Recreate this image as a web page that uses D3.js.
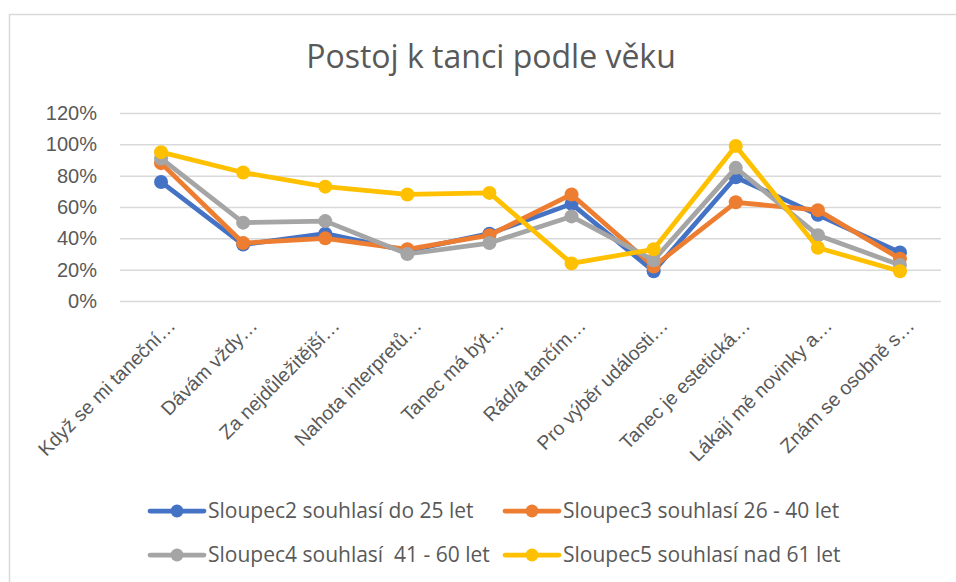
<!DOCTYPE html>
<html lang="cs">
<head>
    <meta charset="UTF-8">
    <title>Postoj k tanci podle věku</title>
    <style>
        body {
            margin: 0;
            background-color: #ffffff;
        }
        svg {
            display: block;
            font-family: "Open Sans", Lato, sans-serif;
        }
        .tick text {
            fill: #595959;
        }
        .legend text {
            white-space: pre;
        }
    </style>
</head>
<body>
    <script src="https://d3js.org/d3.v7.min.js"></script>
    <script>
        const width = 956;
        const height = 582;

        const categories = [
            "Když se mi taneční…",
            "Dávám vždy…",
            "Za nejdůležitější…",
            "Nahota interpretů…",
            "Tanec má být…",
            "Rád/a tančím…",
            "Pro výběr události…",
            "Tanec je estetická…",
            "Lákají mě novinky a…",
            "Znám se osobně s…"
        ];

        const seriesNames = [
            "Sloupec2 souhlasí do 25 let",
            "Sloupec3 souhlasí 26 - 40 let",
            "Sloupec4 souhlasí  41 - 60 let",
            "Sloupec5 souhlasí nad 61 let"
        ];

        const do25 = [0.76, 0.36, 0.43, 0.32, 0.43, 0.62, 0.19, 0.79, 0.55, 0.31];
        const od26do40 = [0.88, 0.37, 0.40, 0.33, 0.42, 0.68, 0.22, 0.63, 0.58, 0.27];
        const od41do60 = [0.91, 0.50, 0.51, 0.30, 0.37, 0.54, 0.26, 0.85, 0.42, 0.23];
        const nad61 = [0.95, 0.82, 0.73, 0.68, 0.69, 0.24, 0.33, 0.99, 0.34, 0.19];

        const yTicks = [0, 0.2, 0.4, 0.6, 0.8, 1.0, 1.2];
        const colors = ["#4472C4", "#ED7D31", "#A5A5A5", "#FFC000"];

        const series = [do25, od26do40, od41do60, nad61].map((values, i) => ({
            name: seriesNames[i],
            color: colors[i],
            values: values
        }));

        const margin = { left: 120, right: 15, top: 113, bottom: 281 };

        const svg = d3.select("body")
            .append("svg")
            .attr("width", width)
            .attr("height", height);

        // chart frame
        svg.append("rect")
            .attr("x", 9.5)
            .attr("y", 14.5)
            .attr("width", width)
            .attr("height", height)
            .attr("fill", "none")
            .attr("stroke", "#d9d9d9")
            .attr("stroke-width", 1.5);

        svg.append("text")
            .attr("x", 491)
            .attr("y", 68)
            .attr("text-anchor", "middle")
            .style("font-size", "32px")
            .style("fill", "#595959")
            .text("Postoj k tanci podle věku");

        const x = d3.scalePoint()
            .domain(categories)
            .range([margin.left, width - margin.right])
            .padding(0.5);

        const y = d3.scaleLinear()
            .domain([0, 1.2])
            .range([height - margin.bottom, margin.top]);

        // gridlines + y labels
        const yAxis = svg.append("g")
            .attr("transform", `translate(${margin.left},0)`)
            .call(d3.axisLeft(y)
                .tickValues(yTicks)
                .tickSize(-(width - margin.left - margin.right))
                .tickPadding(23)
                .tickFormat(d3.format(".0%")));
        yAxis.select(".domain").remove();
        yAxis.selectAll(".tick line")
            .attr("stroke", "#d9d9d9")
            .attr("stroke-width", 1.5);
        yAxis.selectAll(".tick text")
            .style("font-size", "20px");

        // category labels
        const xAxis = svg.append("g")
            .attr("transform", `translate(0,${height - margin.bottom})`)
            .call(d3.axisBottom(x).tickSize(0).tickPadding(0));
        xAxis.select(".domain").remove();
        xAxis.selectAll(".tick text")
            .attr("text-anchor", "end")
            .attr("dy", 0)
            .attr("transform", "translate(15,26) rotate(-45)")
            .style("font-size", "19.5px");

        const line = d3.line()
            .x((d, i) => x(categories[i]))
            .y(d => y(d));

        const seriesG = svg.selectAll(".series")
            .data(series)
            .enter()
            .append("g")
            .attr("class", "series");

        seriesG.append("path")
            .attr("d", d => line(d.values))
            .attr("fill", "none")
            .attr("stroke", d => d.color)
            .attr("stroke-width", 4.75)
            .attr("stroke-linejoin", "round");

        seriesG.each(function(s) {
            d3.select(this).selectAll("circle")
                .data(s.values)
                .enter()
                .append("circle")
                .attr("cx", (d, i) => x(categories[i]))
                .attr("cy", d => y(d))
                .attr("r", 7)
                .attr("fill", s.color);
        });

        // legend
        const legendPos = [[150, 511], [505, 511], [150, 555], [505, 555]];
        const legend = svg.selectAll(".legend")
            .data(series)
            .enter()
            .append("g")
            .attr("class", "legend")
            .attr("transform", (d, i) => `translate(${legendPos[i][0]},${legendPos[i][1]})`);

        legend.append("line")
            .attr("x1", 0)
            .attr("x2", 54)
            .attr("stroke", d => d.color)
            .attr("stroke-width", 4.75)
            .attr("stroke-linecap", "round");

        legend.append("circle")
            .attr("cx", 27)
            .attr("r", 6.5)
            .attr("fill", d => d.color);

        legend.append("text")
            .attr("x", 58)
            .attr("dy", "0.35em")
            .style("font-size", "21px")
            .style("fill", "#595959")
            .text(d => d.name);
    </script>
</body>
</html>
